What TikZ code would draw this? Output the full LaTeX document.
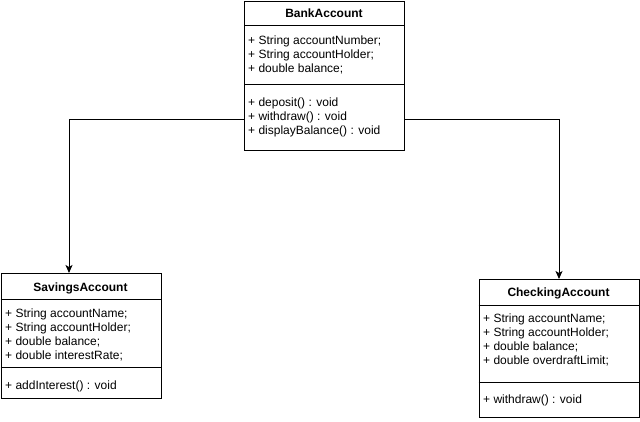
\documentclass[tikz,border=0pt]{standalone}
\usepackage{fontspec}
\setmainfont{Liberation Sans}
\usetikzlibrary{arrows.meta}
\begin{document}
\begin{tikzpicture}[x=1pt,y=-1pt,
  classbox/.style={draw=black,line width=1pt,fill=white,inner sep=0pt,anchor=north west},
  title/.style={font=\fontsize{12}{14}\selectfont\bfseries,anchor=base,inner sep=0pt},
  member/.style={font=\fontsize{12}{14}\selectfont,anchor=base west,inner sep=0pt},
  sep/.style={line width=1pt},
  inherit/.style={line width=1pt,-{Stealth[length=8pt,width=7pt,inset=2pt]}}]
\useasboundingbox (0,0) rectangle (640,422);

% BankAccount
\node[classbox,minimum width=160pt,minimum height=149pt] (bank) at (244,1) {};
\draw[sep] (244,26) -- (404,26);
\draw[sep] (244,85) -- (404,85);
\node[title] (bankT) at (324,18) {BankAccount};
\node[member] (bankA1) at (248,44.5) {+ String accountNumber;};
\node[member] (bankA2) at (248,58.5) {+ String accountHolder;};
\node[member] (bankA3) at (248,72.5) {+ double balance;};
\node[member] (bankM1) at (248,107) {+ deposit() : void};
\node[member] (bankM2) at (248,121) {+ withdraw() : void};
\node[member] (bankM3) at (248,135) {+ displayBalance() : void};

% SavingsAccount
\node[classbox,minimum width=160pt,minimum height=125pt] (sav) at (0.5,273) {};
\draw[sep] (0.5,299) -- (160.5,299);
\draw[sep] (0.5,367) -- (160.5,367);
\node[title] (savT) at (80.5,291) {SavingsAccount};
\node[member] (savA1) at (5,317.5) {+ String accountName;};
\node[member] (savA2) at (5,331.5) {+ String accountHolder;};
\node[member] (savA3) at (5,345.5) {+ double balance;};
\node[member] (savA4) at (5,359.5) {+ double interestRate;};
\node[member] (savM1) at (5,389) {+ addInterest() : void};

% CheckingAccount
\node[classbox,minimum width=160pt,minimum height=138pt] (chk) at (478.5,279) {};
\draw[sep] (478.5,305) -- (638.5,305);
\draw[sep] (478.5,382) -- (638.5,382);
\node[title] (chkT) at (558.5,296) {CheckingAccount};
\node[member] (chkA1) at (483,322.5) {+ String accountName;};
\node[member] (chkA2) at (483,336.5) {+ String accountHolder;};
\node[member] (chkA3) at (483,350.5) {+ double balance;};
\node[member] (chkA4) at (483,364.5) {+ double overdraftLimit;};
\node[member] (chkM1) at (483,403) {+ withdraw() : void};

% generalization connectors
\coordinate (bankL) at (bank.west |- 0,120);
\coordinate (bankR) at (bank.east |- 0,120);
\coordinate (savIn) at (69,273);
\coordinate (chkIn) at (559,279);
\draw[inherit] (bankL) -| (savIn);
\draw[inherit] (bankR) -| (chkIn);
\end{tikzpicture}
\end{document}
